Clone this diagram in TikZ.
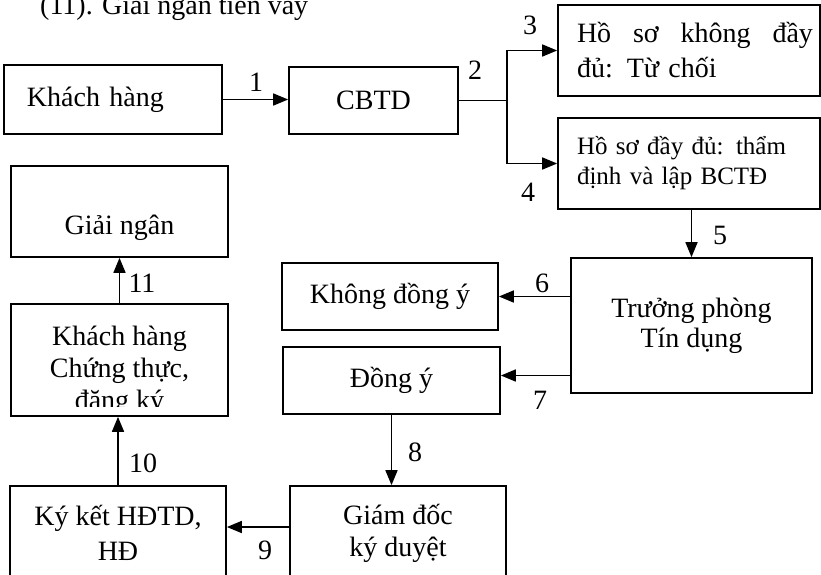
\documentclass[tikz,border=0pt]{standalone}
\usepackage{fontspec}
\setmainfont{Liberation Serif}
\usetikzlibrary{arrows.meta}

\begin{document}
\begin{tikzpicture}[x=1pt, y=-1pt,
  font=\fontsize{28}{32}\selectfont,
  box/.style={draw, line width=1.7pt, align=center, inner sep=0pt},
  arr/.style={line width=1.7pt, -{Triangle[length=15pt,width=12pt]}},
  num/.style={inner sep=1pt}]
  \clip (0,0) rectangle (821,574);
  % heading line, cut at the top edge
  \node[anchor=base west, inner sep=0pt] (title) at (40,14) {(11). Giải ngân tiền vay};
  % first row: customer, officer, the two outcomes of the check
  \node[box, minimum width=218pt, minimum height=69pt, text width=172pt, align=left] (kh) at (113,99.5) {Khách hàng};
  \node[box, minimum width=169pt, minimum height=67pt] (cbtd) at (373.5,100.5) {CBTD};
  \node[box, minimum width=262pt, minimum height=91pt, text width=248pt, align=left,
        font=\fontsize{28}{35}\selectfont] (hsThieu) at (689,50.5)
        {\hspace*{12pt}\makebox[236pt][l]{Hồ\hfill sơ\hfill không\hfill đầy}\\\hspace*{12pt}đủ: Từ chối};
  \node[box, minimum width=262pt, minimum height=91pt, text width=248pt, align=left,
        font=\fontsize{25}{30}\selectfont] (hsDu) at (689,163.5)
        {\hspace*{12pt}Hồ sơ đầy đủ: thẩm\\\hspace*{12pt}định và lập BCTĐ};
  % head of the credit department and the two answers
  \node[box, minimum width=241pt, minimum height=135pt, font=\fontsize{28}{30}\selectfont] (tp) at (691.5,325.5) {Trưởng phòng\\Tín dụng};
  \node[box, minimum width=216pt, minimum height=67pt] (kdy) at (390,296.5) {Không đồng ý};
  \node[box, minimum width=217pt, minimum height=67pt] (dy) at (391.5,380.5) {Đồng ý};
  % bottom row, running off the lower edge
  \node[box, minimum width=216pt, minimum height=94pt] (gd) at (398,533) {Giám đốc\\ký duyệt};
  \node[box, minimum width=216pt, minimum height=94pt, font=\fontsize{28}{35}\selectfont] (kk) at (118,533) {Ký kết HĐTD,\\HĐ};
  % left column going up
  \node[box, minimum width=217pt, minimum height=112pt] (ktt) at (119.5,360) {};
  \begin{scope}
    \clip (ktt.north west) rectangle ([yshift=10pt]ktt.south east);
    \node[align=center, inner sep=0pt] (kttText) at (119.5,371) {Khách hàng\\Chứng thực,\\đăng ký};
  \end{scope}
  \node[box, minimum width=217pt, minimum height=91pt, text height=52pt, text depth=6pt] (gn) at (119.5,211.5) {Giải ngân};

  % connectors
  \draw[arr] (kh.east) -- (kh.east -| cbtd.west);
  \coordinate (fork) at (507,100);
  \draw[line width=1.7pt] (cbtd.east) -- (cbtd.east -| fork);
  \draw[arr] (cbtd.east -| fork) |- (hsThieu.west);
  \draw[arr] (cbtd.east -| fork) |- (hsDu.west);
  \draw[arr] (tp.north |- hsDu.south) -- (tp.north);
  \draw[arr] (tp.west |- kdy.east) -- (kdy.east);
  \coordinate (dyIn) at ([yshift=5pt]dy.east);
  \draw[arr] (tp.west |- dyIn) -- (dyIn);
  \draw[arr] (dy.south) -- (dy.south |- gd.north);
  \coordinate (gdOut) at ([yshift=6pt]gd.west);
  \draw[arr] (gdOut) -- (gdOut -| kk.east);
  \draw[arr] (kk.north) -- (kk.north |- ktt.south);
  \draw[arr] (ktt.north) -- (ktt.north |- gn.south);

  % step numbers
  \node[num] (n1) at (256,82) {1};
  \node[num] (n2) at (475,70) {2};
  \node[num] (n3) at (530,25) {3};
  \node[num] (n4) at (528,192) {4};
  \node[num] (n5) at (720,235) {5};
  \node[num] (n6) at (542,283) {6};
  \node[num] (n7) at (540,400) {7};
  \node[num] (n8) at (415,452) {8};
  \node[num] (n9) at (265,550) {9};
  \node[num] (n10) at (143,463) {10};
  \node[num] (n11) at (142,283) {11};
\end{tikzpicture}
\end{document}
